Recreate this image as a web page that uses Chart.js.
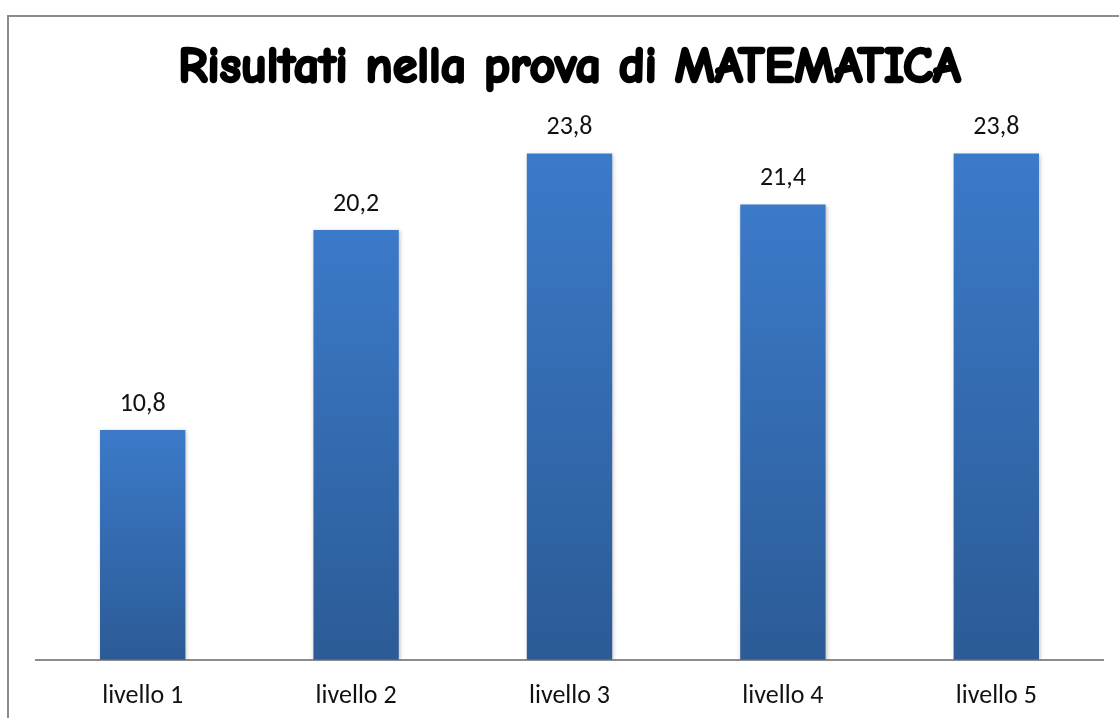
<!DOCTYPE html>
<html>
<head>
<meta charset="utf-8">
<script src="https://cdn.jsdelivr.net/npm/chart.js@4"></script>
<style>
  html, body { margin: 0; padding: 0; background: #fff; overflow: hidden; }
  #frame {
    position: absolute; left: 7px; top: 15px; width: 1200px; height: 800px;
    border-left: 2px solid #8c8c8c; border-top: 2px solid #8c8c8c;
  }
  #wrap { position: absolute; left: 0; top: 0; width: 1119px; height: 718px; }
</style>
</head>
<body>
<div id="frame"></div>
<div id="wrap"><canvas id="chart"></canvas></div>
<script>
// ---- dati ----
const categories = ['livello 1', 'livello 2', 'livello 3', 'livello 4', 'livello 5'];
const values = [10.8, 20.2, 23.8, 21.4, 23.8];
const chartTitle = 'Risultati nella prova di MATEMATICA';

const labelFont = "'Carlito', 'Liberation Sans', Arial, sans-serif";
const titleFont = { family: "'Comic Sans MS', 'Comic Neue', 'DejaVu Sans', sans-serif", size: 50, weight: 'bold', lineHeight: 1.2 };
const titlePadding = { top: 38, bottom: 30 };

// etichette sopra le barre (virgola decimale)
const valueLabels = {
    id: 'valueLabels',
    afterDatasetsDraw(chart) {
        const ctx = chart.ctx;
        const meta = chart.getDatasetMeta(0);
        ctx.save();
        ctx.fillStyle = '#111';
        ctx.font = '26px ' + labelFont;
        ctx.textAlign = 'center';
        ctx.textBaseline = 'middle';
        meta.data.forEach((bar, i) => {
            ctx.fillText(values[i].toFixed(1).replace('.', ','), bar.x, bar.y - 26);
        });
        ctx.restore();
    }
};

// ripassa il titolo con un contorno per renderlo più spesso
const boldTitle = {
    id: 'boldTitle',
    afterDraw(chart) {
        const tb = chart.titleBlock;
        if (!tb) return;
        const ctx = chart.ctx;
        ctx.save();
        ctx.font = `${titleFont.weight} ${titleFont.size}px ${titleFont.family}`;
        ctx.textAlign = 'center';
        ctx.textBaseline = 'middle';
        ctx.strokeStyle = '#000';
        ctx.lineWidth = 2.6;
        ctx.lineJoin = 'round';
        const x = (chart.chartArea.left + chart.chartArea.right) / 2;
        const y = tb.top + titlePadding.top + titleFont.size * titleFont.lineHeight / 2;
        ctx.strokeText(chartTitle, x, y);
        ctx.restore();
    }
};

// ombra leggera sotto le barre
const barShadow = {
    id: 'barShadow',
    beforeDatasetsDraw(chart) {
        const ctx = chart.ctx;
        ctx.save();
        ctx.shadowColor = 'rgba(0,0,0,0.25)';
        ctx.shadowBlur = 4;
        ctx.shadowOffsetX = 1;
        ctx.shadowOffsetY = 1;
    },
    afterDatasetsDraw(chart) {
        chart.ctx.restore();
    }
};

// gradiente per ogni barra: chiaro in alto, scuro in basso
function barGradient(context) {
    const chart = context.chart;
    if (!chart.chartArea || !chart.scales.y) return '#3a78c6';
    const y = chart.scales.y;
    const top = y.getPixelForValue(values[context.dataIndex]);
    const base = y.getPixelForValue(0);
    const g = chart.ctx.createLinearGradient(0, top, 0, base);
    g.addColorStop(0, '#3b7ac9');
    g.addColorStop(1, '#2c5b96');
    return g;
}

new Chart(document.getElementById('chart'), {
    type: 'bar',
    data: {
        labels: categories,
        datasets: [{
            data: values,
            backgroundColor: barGradient,
            borderWidth: 0,
            barPercentage: 0.4,
            categoryPercentage: 1.0
        }]
    },
    options: {
        responsive: true,
        maintainAspectRatio: false,
        animation: false,
        layout: { padding: { left: 36, right: 16, top: 0, bottom: -15 } },
        plugins: {
            legend: { display: false },
            tooltip: { enabled: false },
            title: {
                display: true,
                text: chartTitle,
                color: '#000',
                font: titleFont,
                padding: titlePadding
            }
        },
        scales: {
            x: {
                grid: { display: false, drawTicks: false },
                border: { display: true, color: '#8c8c8c', width: 2 },
                ticks: { color: '#111', font: { family: labelFont, size: 26 }, padding: 21 }
            },
            y: {
                display: false,
                min: 0,
                max: 25
            }
        }
    },
    plugins: [barShadow, valueLabels, boldTitle]
});
</script>
</body>
</html>
